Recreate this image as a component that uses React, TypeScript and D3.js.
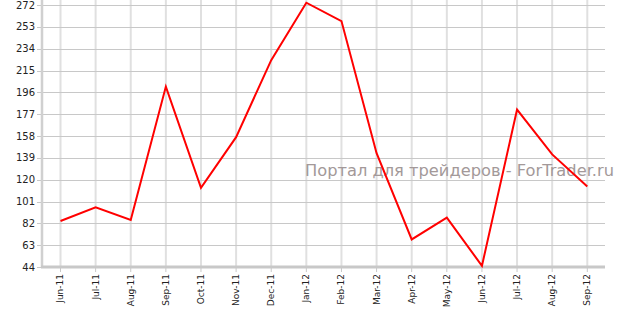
import React from "react";
import * as d3 from "d3";

const categories = ["Jun-11","Jul-11","Aug-11","Sep-11","Oct-11","Nov-11","Dec-11","Jan-12","Feb-12","Mar-12","Apr-12","May-12","Jun-12","Jul-12","Aug-12","Sep-12"];
const values = [84, 96, 85, 201, 113, 157, 224, 274, 258, 143, 68, 87, 45, 181, 142, 114];
const yTicks = [44, 63, 82, 101, 120, 139, 158, 177, 196, 215, 234, 253, 272];
const watermark = "Портал для трейдеров - ForTrader.ru";

const W = 621, H = 319;
const left = 42, right = 605, top = 5, bottom = 267;

export default function App() {
  const x = d3.scalePoint<string>().domain(categories).range([60.5, 587.3]);
  const y = d3.scaleLinear().domain([44, 272]).range([bottom, top]);
  const line = d3.line<number>().x((_, i) => x(categories[i]) as number).y(d => y(d));
  const font = "'DejaVu Sans', Verdana, sans-serif";
  return (
    <svg width={W} height={H} style={{ position: "absolute", left: 0, top: 0, background: "#fff" }}>
      {categories.map(c => (
        <line key={"v" + c} x1={x(c)} x2={x(c)} y1={0} y2={bottom} stroke="#e0e0e0" strokeWidth={2} />
      ))}
      {yTicks.map(t => (
        <line key={"h" + t} x1={left} x2={right} y1={Math.round(y(t)) + 0.5} y2={Math.round(y(t)) + 0.5} stroke="#c8c8c8" strokeWidth={1} />
      ))}
      {yTicks.map(t => (
        <g key={"yt" + t}>
          <line x1={37} x2={left} y1={Math.round(y(t)) + 0.5} y2={Math.round(y(t)) + 0.5} stroke="#c8c8c8" />
          <text x={35} y={y(t)} dy="0.36em" textAnchor="end" fontFamily={font} fontSize={10} fill="#222">{t}</text>
        </g>
      ))}
      <text x={305} y={176} fontFamily={font} fontSize={16.5} fill="#a39999" textLength={309} lengthAdjust="spacingAndGlyphs">{watermark}</text>
      <line x1={left} x2={left} y1={0} y2={bottom + 1} stroke="#d0d0d0" strokeWidth={2.5} />
      <line x1={left - 1} x2={right} y1={bottom} y2={bottom} stroke="#c8c8c8" strokeWidth={3} />
      {categories.map(c => (
        <g key={"xt" + c}>
          <line x1={x(c)} x2={x(c)} y1={bottom + 1} y2={bottom + 5} stroke="#c8c8c8" strokeWidth={1} />
          <text transform={`translate(${x(c)},274) rotate(-90)`} dy="0.33em" textAnchor="end" fontFamily={font} fontSize={9} fill="#222">{c}</text>
        </g>
      ))}
      <path d={line(values) || ""} fill="none" stroke="#ff0000" strokeWidth={2} strokeLinejoin="miter" />
    </svg>
  );
}
